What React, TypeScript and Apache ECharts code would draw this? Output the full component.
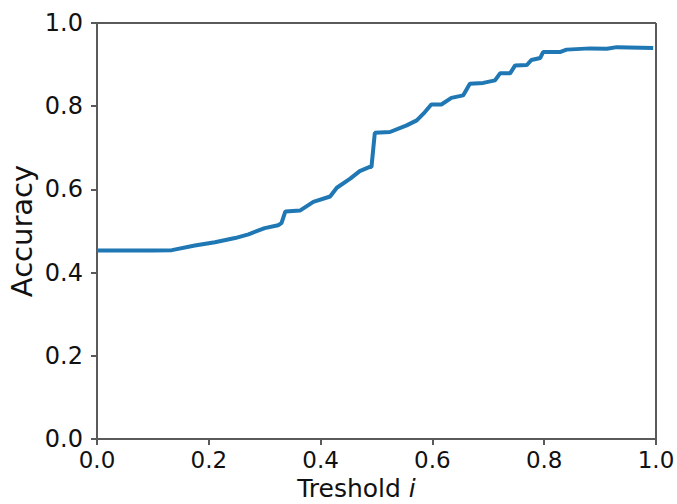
import React, { useEffect, useRef } from "react";
import * as echarts from "echarts";

const thresholds = [
  0.0, 0.05, 0.1, 0.134, 0.175, 0.211, 0.247, 0.271, 0.3, 0.324, 0.33, 0.337,
  0.363, 0.387, 0.417, 0.429, 0.453, 0.47, 0.488, 0.491, 0.497, 0.524, 0.554,
  0.572, 0.584, 0.598, 0.616, 0.634, 0.655, 0.667, 0.691, 0.712, 0.721, 0.739,
  0.748, 0.769, 0.777, 0.793, 0.798, 0.828, 0.84, 0.882, 0.912, 0.93, 0.995,
];
const accuracy = [
  0.453, 0.453, 0.453, 0.454, 0.465, 0.473, 0.483, 0.492, 0.507, 0.514, 0.519,
  0.547, 0.549, 0.57, 0.583, 0.604, 0.626, 0.644, 0.654, 0.654, 0.736, 0.738,
  0.754, 0.766, 0.782, 0.804, 0.804, 0.82, 0.826, 0.854, 0.856, 0.862, 0.879,
  0.879, 0.898, 0.899, 0.911, 0.916, 0.93, 0.93, 0.936, 0.939, 0.938, 0.942,
  0.94,
];
const xTicks = ["0.0", "0.2", "0.4", "0.6", "0.8", "1.0"];

export default function App() {
  const ref = useRef<HTMLDivElement>(null);
  useEffect(() => {
    if (!ref.current) return;
    const chart = echarts.init(ref.current, null, { renderer: "svg" });
    const axisColor = "#5a5a5a";
    const font = "DejaVu Sans";
    chart.setOption({
      animation: false,
      grid: { left: 97, right: 21, top: 23, bottom: 65, containLabel: false, outerBoundsMode: "none" },
      xAxis: {
        type: "value",
        min: 0,
        max: 1,
        interval: 0.2,
        name: "{a|Treshold }{b|i}",
        nameLocation: "middle",
        nameGap: 35,
        nameMoveOverlap: false,
        nameTextStyle: {
          padding: [0, 40, 0, 0],
          rich: {
            a: { fontFamily: font, fontSize: 25, lineHeight: 29, color: "#111" },
            b: { fontFamily: font, fontSize: 25, lineHeight: 29, color: "#111", fontStyle: "italic" },
          },
        },
        axisLine: { show: true, lineStyle: { color: axisColor, width: 2 } },
        axisTick: { show: true, length: 6, lineStyle: { color: axisColor, width: 2 } },
        axisLabel: {
          fontFamily: font,
          fontSize: 23,
          lineHeight: 25,
          color: "#111",
          margin: 8,
          formatter: (v: number) => xTicks[Math.round(v / 0.2)] ?? v.toFixed(1),
        },
        splitLine: { show: false },
      },
      yAxis: {
        type: "value",
        min: 0,
        max: 1,
        interval: 0.2,
        name: "Accuracy",
        nameLocation: "middle",
        nameGap: 61,
        nameMoveOverlap: false,
        nameTextStyle: { fontFamily: font, fontSize: 29, color: "#111" },
        axisLine: { show: true, lineStyle: { color: axisColor, width: 2 } },
        axisTick: { show: true, length: 6, lineStyle: { color: axisColor, width: 2 } },
        axisLabel: {
          fontFamily: font,
          fontSize: 24,
          color: "#111",
          margin: 14,
          formatter: (v: number) => v.toFixed(1),
        },
        splitLine: { show: false },
      },
      graphic: [
        {
          type: "line",
          shape: { x1: 97, y1: 23, x2: 656, y2: 23 },
          style: { stroke: axisColor, lineWidth: 2 },
        },
        {
          type: "line",
          shape: { x1: 656, y1: 23, x2: 656, y2: 439 },
          style: { stroke: axisColor, lineWidth: 2 },
        },
      ],
      series: [
        {
          type: "line",
          data: thresholds.map((t, i) => [t, accuracy[i]]),
          showSymbol: false,
          lineStyle: { color: "#1f77b4", width: 4 },
          itemStyle: { color: "#1f77b4" },
        },
      ],
    });
    return () => chart.dispose();
  }, []);
  return <div ref={ref} style={{ width: 677, height: 504, position: "absolute", left: 0, top: 0 }} />;
}
